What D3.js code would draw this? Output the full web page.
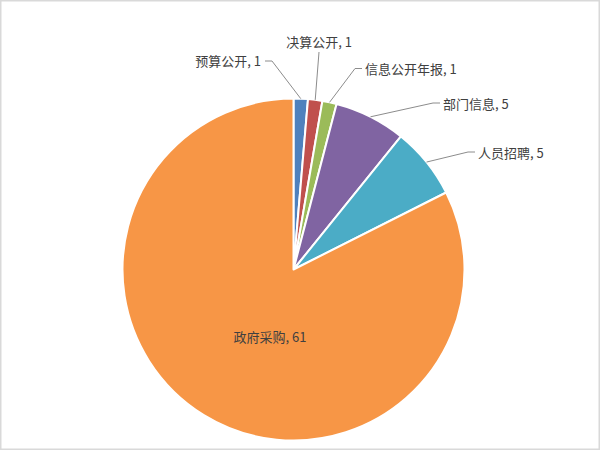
<!DOCTYPE html>
<html>
<head>
<meta charset="utf-8">
<script src="https://cdn.jsdelivr.net/npm/d3@7"></script>
<style>
  html, body { margin: 0; padding: 0; background: #fff; }
  svg { display: block; }
</style>
</head>
<body>
<div id="chart"></div>
<script>
const categories = ["预算公开", "决算公开", "信息公开年报", "部门信息", "人员招聘", "政府采购"];
const values = [1, 1, 1, 5, 5, 61];
const colors = ["#4F81BD", "#C0504D", "#9BBB59", "#8064A2", "#4BACC6", "#F79646"];

const w = 600;
const h = 450;
const cx = 293.5;
const cy = 269.5;
const radius = 171;

// where each label's leader line bends (or where an inside label sits), relative to the centre
const labelLayout = [
  { dx: -21.5, dy: -208.5, side: "left" },
  { dx: 25.5, dy: -217.5, side: "top" },
  { dx: 61.5, dy: -201, side: "right" },
  { dx: 139.5, dy: -166.5, side: "right" },
  { dx: 174.5, dy: -117.5, side: "right" },
  { dx: -23.5, dy: 67.5, side: "inside" }
];

const svg = d3.select("#chart").append("svg")
  .attr("width", w)
  .attr("height", h);

svg.append("rect")
  .attr("x", 0.75).attr("y", 0.75)
  .attr("width", w - 1.5).attr("height", h - 1.5)
  .attr("fill", "#fff")
  .attr("stroke", "#d9d9d9")
  .attr("stroke-width", 1.5);

const data = categories.map((c, i) => ({ name: c, value: values[i], color: colors[i], layout: labelLayout[i] }));

const pie = d3.pie()
  .value(d => d.value)
  .sort(null);

const arc = d3.arc()
  .innerRadius(0)
  .outerRadius(radius);

const g = svg.append("g")
  .attr("transform", "translate(" + cx + "," + cy + ")");

const arcs = pie(data);

g.selectAll("path.slice")
  .data(arcs)
  .enter()
  .append("path")
  .attr("class", "slice")
  .attr("d", arc)
  .attr("fill", d => d.data.color)
  .attr("stroke", "#fff")
  .attr("stroke-width", 2)
  .attr("stroke-linejoin", "round");

const font = "'Noto Sans CJK SC', 'Microsoft YaHei', sans-serif";
const labelText = d => d.data.name + ", " + d.data.value;

arcs.forEach(d => {
  const mid = (d.startAngle + d.endAngle) / 2;
  const ex = Math.sin(mid) * radius;
  const ey = -Math.cos(mid) * radius;
  const L = d.data.layout;
  let pts = null, tx, ty, anchor;
  if (L.side === "left") {
    pts = [[ex, ey], [L.dx, L.dy], [L.dx - 7, L.dy]];
    tx = L.dx - 11; ty = L.dy; anchor = "end";
  } else if (L.side === "right") {
    pts = [[ex, ey], [L.dx, L.dy], [L.dx + 7, L.dy]];
    tx = L.dx + 10; ty = L.dy + 1; anchor = "start";
  } else if (L.side === "top") {
    pts = [[ex, ey], [L.dx, L.dy]];
    tx = L.dx; ty = L.dy - 10; anchor = "middle";
  } else {
    tx = L.dx; ty = L.dy; anchor = "middle";
  }
  if (pts) {
    g.append("path")
      .attr("d", d3.line()(pts))
      .attr("fill", "none")
      .attr("stroke", "#8c8c8c")
      .attr("stroke-width", 1);
  }
  g.append("text")
    .attr("x", tx)
    .attr("y", ty)
    .attr("dy", "0.35em")
    .attr("text-anchor", anchor)
    .attr("font-family", font)
    .attr("font-size", 13)
    .attr("fill", "#404040")
    .text(labelText(d));
});
</script>
</body>
</html>
